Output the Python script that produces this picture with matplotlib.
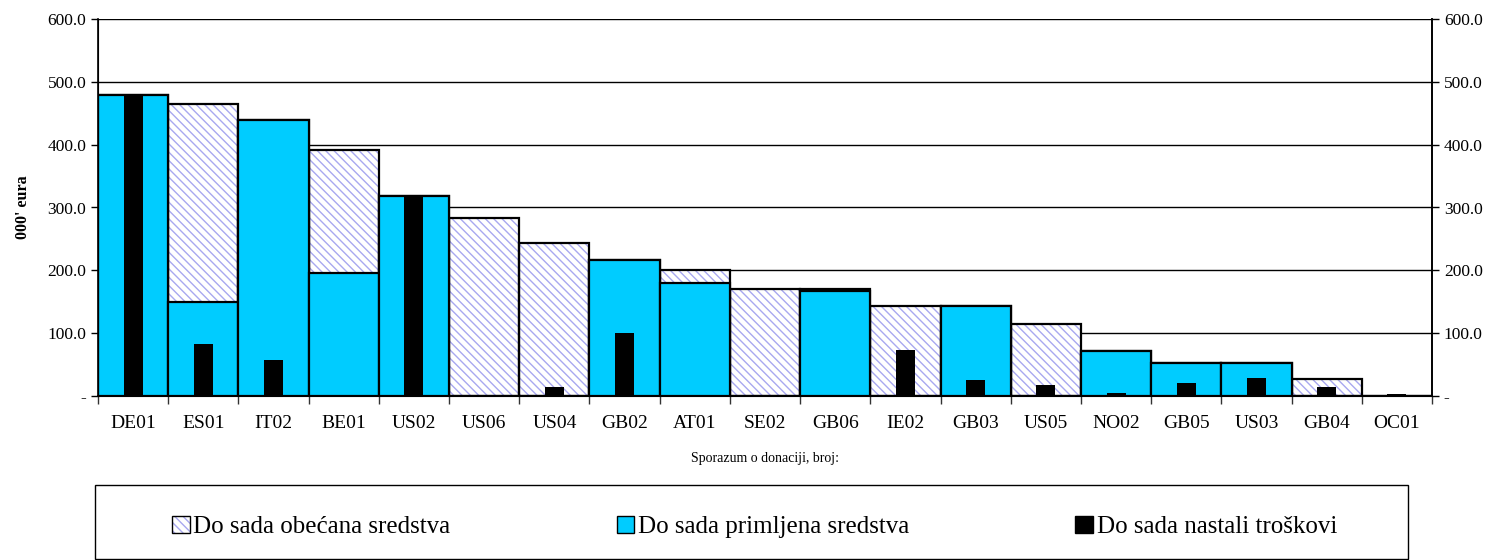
import numpy as np
import matplotlib
matplotlib.use('Agg')
import matplotlib.pyplot as plt
from matplotlib.patches import Patch, Rectangle
from matplotlib.ticker import FuncFormatter, FixedLocator

plt.rcParams['font.family'] = ['Liberation Serif', 'DejaVu Serif']
plt.rcParams['hatch.linewidth'] = 1.0

# podaci (000' eura)
sporazumi = ['DE01', 'ES01', 'IT02', 'BE01', 'US02', 'US06', 'US04', 'GB02', 'AT01', 'SE02',
             'GB06', 'IE02', 'GB03', 'US05', 'NO02', 'GB05', 'US03', 'GB04', 'OC01']
obecano = [479, 465, 440, 391, 318, 283, 243, 217, 200, 170, 170, 144, 144, 114, 71, 52, 52, 27, 0]
primljeno = [479, 150, 440, 196, 318, 0, 0, 217, 180, 0, 167, 0, 144, 0, 71, 52, 52, 0, 0]
troskovi = [479, 83, 58, 0, 318, 0, 14, 100, 0, 0, 0, 74, 26, 18, 4, 21, 28, 15, 3]

cyan = '#00CCFF'
hatch_col = '#a8a8f0'

fig = plt.figure(figsize=(15.02, 5.6), dpi=100)
ax = fig.add_axes([98/1502, 1-396/560, (1432-98)/1502, (396-19)/560])

x = np.arange(len(sporazumi))

# obecana sredstva - srafura pa crni okvir
ax.bar(x, obecano, width=1.0, color='white', edgecolor=hatch_col, hatch='\\\\\\\\', linewidth=0, zorder=2)
ax.bar(x, obecano, width=1.0, fill=False, edgecolor='black', linewidth=1.6, zorder=2.5)
# primljena sredstva
ax.bar(x, primljeno, width=1.0, color=cyan, edgecolor='black', linewidth=1.6, zorder=3)
# nastali troskovi
ax.bar(x, troskovi, width=0.27, color='black', edgecolor='none', zorder=4)

ax.set_xlim(-0.5, len(sporazumi) - 0.5)
ax.set_ylim(0, 600)
ax.set_yticks(np.arange(0, 601, 100))
fmt = FuncFormatter(lambda v, p: '-' if v == 0 else f'{v:.1f}')
ax.yaxis.set_major_formatter(fmt)
ax.grid(axis='y', color='black', linewidth=1.0, zorder=0)
ax.set_axisbelow(True)

ax.set_xticks(x)
ax.set_xticklabels(sporazumi, fontsize=14)
ax.tick_params(axis='x', which='major', length=0, pad=14)
ax.xaxis.set_minor_locator(FixedLocator(np.arange(-0.5, len(sporazumi), 1.0)))
ax.tick_params(axis='x', which='minor', length=6, width=1, color='#333333')
ax.tick_params(axis='y', labelsize=12.5, length=5, width=1)

ax.spines['top'].set_visible(False)
for s in ['left', 'right', 'bottom']:
    ax.spines[s].set_linewidth(1.2)
    ax.spines[s].set_color('black')

ax.set_ylabel("000' eura", fontsize=11.5, fontweight='bold', labelpad=12)
ax.set_xlabel('Sporazum o donaciji, broj:', fontsize=10, labelpad=14)

ax2 = ax.twinx()
ax2.set_ylim(0, 600)
ax2.set_yticks(np.arange(0, 601, 100))
ax2.yaxis.set_major_formatter(fmt)
ax2.tick_params(axis='y', labelsize=12.5, length=5, width=1)
ax2.spines['top'].set_visible(False)
ax2.spines['right'].set_linewidth(1.2)

# legenda
fig.patches.append(Rectangle((95/1502, 0.002), (1408-95)/1502, (559-485)/560,
                             transform=fig.transFigure, fill=False, edgecolor='black',
                             linewidth=1.0, figure=fig))
handles = [Patch(facecolor='white', edgecolor='black', hatch='\\\\\\\\', linewidth=1.0),
           Patch(facecolor=cyan, edgecolor='black', linewidth=1.0),
           Patch(facecolor='black', edgecolor='black')]
handles[0]._hatch_color = matplotlib.colors.to_rgba(hatch_col)
labels = ['Do sada obećana sredstva', 'Do sada primljena sredstva', 'Do sada nastali troškovi']
fig.legend(handles, labels, ncol=3, frameon=False, fontsize=18, mode='expand',
           bbox_to_anchor=(172/1502, 3/560, (1337-172)/1502, 60/560), loc='center',
           handlelength=0.7, handleheight=0.7, handletextpad=0.15, borderaxespad=0,
           borderpad=0)

fig.savefig('out.png', dpi=100)
